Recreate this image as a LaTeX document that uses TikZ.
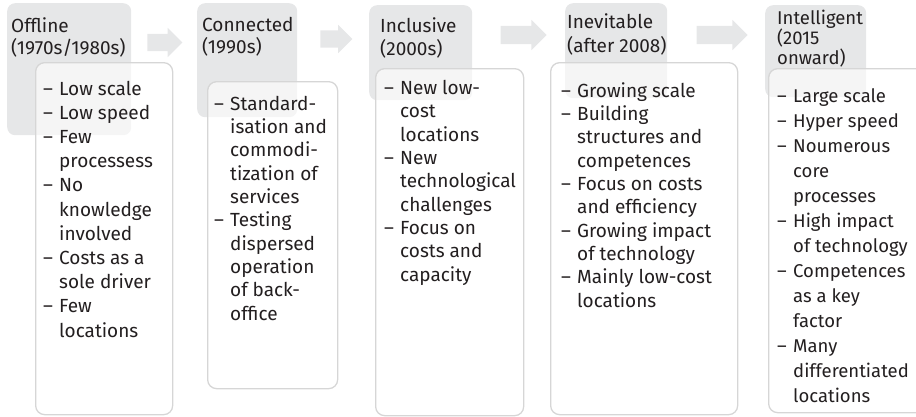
\documentclass[tikz,border=0pt]{standalone}
\usepackage{fontspec}
\setmainfont{Fira Sans}
\usetikzlibrary{shapes.arrows}

\definecolor{headgray}{HTML}{E6E7E8}
\definecolor{framegray}{HTML}{D6D6D6}
\definecolor{inkgray}{HTML}{231F20}

\newcommand{\itemdash}{\makebox[16pt][l]{–}}
\newcommand{\itemcont}{\hspace*{16pt}}

\tikzset{
  headbox/.style={fill=headgray, draw=none, rounded corners=8pt, anchor=north west, inner sep=0},
  bodybox/.style={fill=white, fill opacity=0.6, draw=framegray, line width=1.3pt, rounded corners=9pt, anchor=north west, inner sep=0},
  headtext/.style={anchor=base west, align=left, inner sep=0, text=inkgray, font=\fontsize{19}{22.5}\selectfont},
  bodytext/.style={anchor=base west, align=left, inner sep=0, text=inkgray, font=\fontsize{19}{23.3}\selectfont},
  flowarrow/.style={single arrow, fill=headgray, draw=none, inner xsep=0, shape border rotate=0}
}

\begin{document}
\begin{tikzpicture}[x=1pt, y=-1pt]

\useasboundingbox (0,0) rectangle (916,416);
\clip (0,0) rectangle (916,416);

\node[headbox, minimum width=124, minimum height=132] (h1) at (7,3) {};
\node[headbox, minimum width=100, minimum height=114] (h2) at (197,3) {};
\node[headbox, minimum width=103, minimum height=95] (h3) at (369,5) {};
\node[headbox, minimum width=102, minimum height=95] (h4) at (565,3) {};
\node[headbox, minimum width=101, minimum height=92] (h5) at (765,5) {};

\node[flowarrow, minimum height=35, minimum width=29, inner ysep=8.5, single arrow head extend=6] (a1) at (160.5,42.5) {};
\node[flowarrow, minimum height=32, minimum width=28, inner ysep=8.5, single arrow head extend=5.5] (a2) at (332,39) {};
\node[flowarrow, minimum height=46, minimum width=30, inner ysep=9, single arrow head extend=6] (a3) at (519,35) {};
\node[flowarrow, minimum height=51, minimum width=30, inner ysep=9, single arrow head extend=6] (a4) at (717.5,35) {};

\node[bodybox, minimum width=137, minimum height=352] (b1) at (35,62) {};
\node[bodybox, minimum width=130, minimum height=307] (b2) at (207,81) {};
\node[bodybox, minimum width=148, minimum height=347] (b3) at (375,68) {};
\node[bodybox, minimum width=187, minimum height=352] (b4) at (550,62) {};
\node[bodybox, minimum width=170, minimum height=344] (b5) at (768,68) {};

% period titles (anchored at the baseline of the last line)
\node[headtext, font=\fontsize{19}{22}\selectfont] (t1) at (11,54) {Offline\\(1970s/1980s)};
\node[headtext, font=\fontsize{19}{22}\selectfont] (t2) at (202,53) {Connected\\(1990s)};
\node[headtext, font=\fontsize{19}{23}\selectfont] (t3) at (380,55) {Inclusive\\(2000s)};
\node[headtext, font=\fontsize{19}{24}\selectfont] (t4) at (567,52) {Inevitable\\(after 2008)};
\node[headtext, font=\fontsize{18.5}{18}\selectfont] (t5) at (777,64) {Intelligent\\(2015\\onward)};

% features
\node[bodytext, font=\fontsize{19}{24.2}\selectfont] (l1) at (43,337) {%
\itemdash Low scale\\
\itemdash Low speed\\
\itemdash Few\\
\itemcont processess\\
\itemdash No\\
\itemcont knowledge\\
\itemcont involved\\
\itemdash Costs as a\\
\itemcont sole driver\\
\itemdash Few\\
\itemcont locations};

\node[bodytext] (l2) at (214,320) {%
\itemdash Standard-\\
\itemcont isation and\\
\itemcont commodi-\\
\itemcont tization of\\
\itemcont services\\
\itemdash Testing\\
\itemcont dispersed\\
\itemcont operation\\
\itemcont of back-\\
\itemcont office};

\node[bodytext] (l3) at (384,281) {%
\itemdash New low-\\
\itemcont cost\\
\itemcont locations\\
\itemdash New\\
\itemcont technological\\
\itemcont challenges\\
\itemdash Focus on\\
\itemcont costs and\\
\itemcont capacity};

\node[bodytext] (l4) at (561,307) {%
\itemdash Growing scale\\
\itemdash Building\\
\itemcont structures and\\
\itemcont competences\\
\itemdash Focus on costs\\
\itemcont and efficiency\\
\itemdash Growing impact\\
\itemcont of technology\\
\itemdash Mainly low-cost\\
\itemcont locations};

\node[bodytext, font=\fontsize{18.5}{25}\selectfont] (l5) at (777,402) {%
\itemdash Large scale\\
\itemdash Hyper speed\\
\itemdash Noumerous\\
\itemcont core\\
\itemcont processes\\
\itemdash High impact\\
\itemcont of technology\\
\itemdash Competences\\
\itemcont as a key\\
\itemcont factor\\
\itemdash Many\\
\itemcont differentiated\\
\itemcont locations};

\end{tikzpicture}
\end{document}
